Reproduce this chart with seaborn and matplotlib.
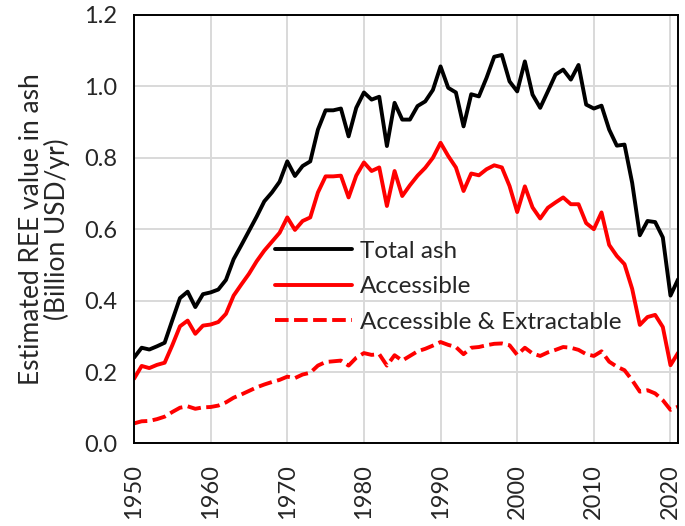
import seaborn as sns
import matplotlib.pyplot as plt
from matplotlib.ticker import FormatStrFormatter

years = list(range(1950, 2022))

total_ash = [
    0.240, 0.268, 0.263, 0.272, 0.282, 0.345, 0.407, 0.425, 0.382, 0.418,
    0.423, 0.431, 0.458, 0.516, 0.555, 0.595, 0.635, 0.678, 0.703, 0.733,
    0.790, 0.749, 0.777, 0.790, 0.879, 0.933, 0.933, 0.938, 0.860, 0.940,
    0.983, 0.963, 0.971, 0.833, 0.954, 0.907, 0.907, 0.945, 0.958, 0.990,
    1.056, 0.996, 0.983, 0.888, 0.978, 0.972, 1.024, 1.083, 1.088, 1.014,
    0.986, 1.070, 0.977, 0.940, 0.986, 1.033, 1.047, 1.019, 1.060, 0.949,
    0.938, 0.946, 0.879, 0.834, 0.837, 0.730, 0.583, 0.623, 0.620, 0.577,
    0.414, 0.460,
]

accessible = [
    0.181, 0.217, 0.211, 0.220, 0.226, 0.275, 0.328, 0.344, 0.307, 0.330,
    0.333, 0.340, 0.363, 0.414, 0.445, 0.475, 0.510, 0.540, 0.565, 0.590,
    0.633, 0.598, 0.623, 0.633, 0.703, 0.748, 0.748, 0.750, 0.689, 0.750,
    0.787, 0.763, 0.773, 0.665, 0.763, 0.693, 0.723, 0.750, 0.772, 0.800,
    0.842, 0.805, 0.773, 0.707, 0.756, 0.751, 0.768, 0.779, 0.773, 0.721,
    0.648, 0.720, 0.661, 0.630, 0.660, 0.675, 0.689, 0.670, 0.670, 0.617,
    0.600, 0.647, 0.556, 0.525, 0.502, 0.433, 0.332, 0.354, 0.360, 0.326,
    0.219, 0.254,
]

extractable = [
    0.056, 0.062, 0.063, 0.068, 0.075, 0.088, 0.100, 0.104, 0.097, 0.101,
    0.102, 0.106, 0.115, 0.128, 0.137, 0.147, 0.157, 0.165, 0.172, 0.178,
    0.187, 0.183, 0.193, 0.198, 0.218, 0.228, 0.230, 0.232, 0.218, 0.240,
    0.253, 0.248, 0.250, 0.218, 0.247, 0.232, 0.245, 0.258, 0.265, 0.274,
    0.284, 0.276, 0.270, 0.250, 0.268, 0.270, 0.275, 0.279, 0.280, 0.275,
    0.248, 0.268, 0.252, 0.245, 0.255, 0.262, 0.270, 0.268, 0.262, 0.250,
    0.245, 0.258, 0.229, 0.215, 0.205, 0.177, 0.145, 0.149, 0.140, 0.121,
    0.094, 0.103,
]

x_ticks = list(range(1950, 2021, 10))
y_ticks = [0.0, 0.2, 0.4, 0.6, 0.8, 1.0, 1.2]

sns.set_style("white")
plt.rcParams['font.family'] = ['Lato', 'DejaVu Sans']

fig = plt.figure(figsize=(6.85, 5.26), dpi=100)
ax = fig.add_axes([0.1956, 0.157, 0.7944, 0.8145])

lw = 2.8
dash = [3.5, 1.4]
sns.lineplot(x=years, y=total_ash, color="black", linewidth=lw, label="Total ash", ax=ax)
sns.lineplot(x=years, y=accessible, color="#ff0000", linewidth=lw, label="Accessible", ax=ax)
sns.lineplot(x=years, y=extractable, color="#ff0000", linewidth=lw, label="Accessible & Extractable", ax=ax)
ax.lines[2].set_dashes(dash)

ax.set_xlim(1950, 2021)
ax.set_ylim(0, 1.2)
ax.set_xticks(x_ticks)
ax.set_yticks(y_ticks)
ax.yaxis.set_major_formatter(FormatStrFormatter("%.1f"))
ax.tick_params(axis="both", length=0, labelsize=17)
ax.tick_params(axis="x", labelrotation=90, pad=15)
ax.tick_params(axis="y", pad=12)
ax.grid(True, color="#d9d9d9", linewidth=1.4)
ax.set_axisbelow(True)
for s in ax.spines.values():
    s.set_color("black")
    s.set_linewidth(1.4)

ax.set_ylabel("Estimated REE value in ash\n(Billion USD/yr)", fontsize=19,
              linespacing=1.0, labelpad=10)

leg = ax.legend(loc="upper left", bbox_to_anchor=(0.259, 0.473), frameon=False,
                borderaxespad=0, borderpad=0, fontsize=17.5, handlelength=3.17,
                handletextpad=0.33, labelspacing=0.6)
leg.get_lines()[2].set_dashes(dash)

fig.savefig("out.png", dpi=100)
